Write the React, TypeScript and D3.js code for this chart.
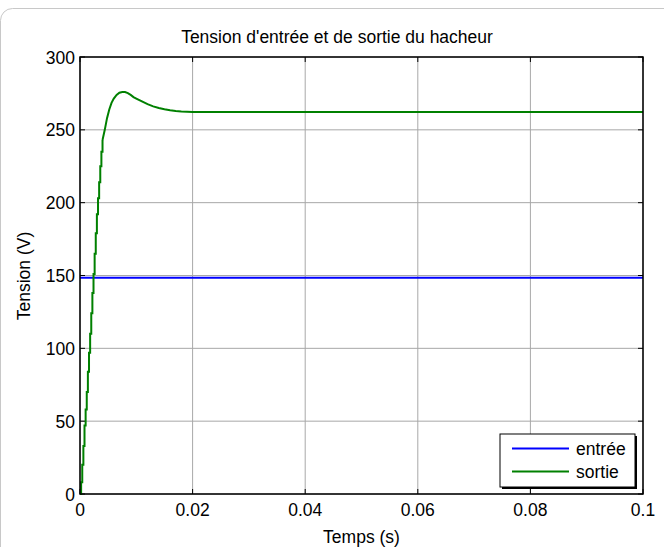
import React from "react";
import * as d3 from "d3";

const timeMs = [0, 0.2, 0.4, 0.6, 0.8, 1.0, 1.2, 1.4, 1.6, 1.8, 2.0, 2.2, 2.4, 2.6, 2.8, 3.0, 3.2, 3.4, 3.6, 3.8, 4.0, 4.4, 4.8, 5.2, 5.6, 6.0, 6.5, 7.0, 7.5, 8.0, 8.5, 9.0, 9.5, 10, 11, 12, 13, 14, 15, 16, 17, 18, 19, 20, 100];
const sortie = [0, 8, 20, 33, 47, 58, 70, 84, 97, 110, 124, 138, 151, 165, 179, 192, 203, 214, 225, 235, 243, 250, 258, 264, 268.5, 271.5, 274, 275.5, 276, 275.9, 275.2, 274, 272.5, 271.5, 269.5, 267.6, 266.1, 265, 264.1, 263.4, 262.9, 262.6, 262.4, 262.2, 262.2];
const entreeTime = [0, 100];
const entree = [148.5, 148.5];

const xTicks = [0, 0.02, 0.04, 0.06, 0.08, 0.1];
const xTickLabels = ["0", "0.02", "0.04", "0.06", "0.08", "0.1"];
const yTicks = [0, 50, 100, 150, 200, 250, 300];

const title = "Tension d'entrée et de sortie du hacheur";
const xLabel = "Temps (s)";
const yLabel = "Tension (V)";
const legendNames = ["entrée", "sortie"];
const colors = ["#0000ff", "#008000"];

export default function App() {
  const W = 664, H = 547;
  const left = 80, right = 643, top = 57, bottom = 494;
  const x = d3.scaleLinear().domain([0, 0.1]).range([left, right]);
  const y = d3.scaleLinear().domain([0, 300]).range([bottom, top]);
  const font = "'Liberation Sans', Arial, sans-serif";
  const fs = 17.5;

  const stepLine = d3.line<[number, number]>()
    .x(d => x(d[0] / 1000))
    .y(d => y(d[1]))
    .curve(d3.curveStepAfter);
  const linLine = d3.line<[number, number]>()
    .x(d => x(d[0] / 1000))
    .y(d => y(d[1]));

  const sortiePts: [number, number][] = timeMs.map((t, i) => [t, sortie[i]]);
  const entreePts: [number, number][] = entreeTime.map((t, i) => [t, entree[i]]);
  const risePts = sortiePts.filter(p => p[0] <= 4.0);
  const restPts = sortiePts.filter(p => p[0] >= 4.0);

  const lgX = 500, lgY = 434, lgW = 135, lgH = 53;

  return (
    <svg width={W} height={H} style={{ position: "absolute", left: 0, top: 0, background: "#fff" }} fontFamily={font}>
      <rect x={0.5} y={8.5} width={W + 20} height={H + 20} rx={12} fill="#fff" stroke="#c8c8c8" strokeWidth={1} />
      {xTicks.map((t, i) => (
        <line key={"gx" + i} x1={x(t)} x2={x(t)} y1={top} y2={bottom} stroke="#a8a8a8" strokeWidth={1} />
      ))}
      {yTicks.map((t, i) => (
        <line key={"gy" + i} x1={left} x2={right} y1={y(t)} y2={y(t)} stroke="#a8a8a8" strokeWidth={1} />
      ))}
      {xTicks.map((t, i) => (
        <g key={"tx" + i}>
          <line x1={x(t)} x2={x(t)} y1={bottom} y2={bottom - 5} stroke="#000" />
          <line x1={x(t)} x2={x(t)} y1={top} y2={top + 5} stroke="#000" />
          <text x={x(t)} y={515.5} fontSize={fs} textAnchor="middle" fill="#000">{xTickLabels[i]}</text>
        </g>
      ))}
      {yTicks.map((t, i) => (
        <g key={"ty" + i}>
          <line x1={left} x2={left + 5} y1={y(t)} y2={y(t)} stroke="#000" />
          <line x1={right} x2={right - 5} y1={y(t)} y2={y(t)} stroke="#000" />
          <text x={75} y={y(t) + 6.5} fontSize={fs} textAnchor="end" fill="#000">{t}</text>
        </g>
      ))}
      <path d={linLine(entreePts) || ""} fill="none" stroke={colors[0]} strokeWidth={2} />
      <path d={stepLine(risePts) || ""} fill="none" stroke={colors[1]} strokeWidth={2} />
      <path d={linLine(restPts) || ""} fill="none" stroke={colors[1]} strokeWidth={2} />
      <rect x={left} y={top} width={right - left} height={bottom - top} fill="none" stroke="#000" strokeWidth={1.5} />
      <text x={337} y={43} fontSize={fs} textAnchor="middle" fill="#000">{title}</text>
      <text x={(left + right) / 2} y={543} fontSize={fs} textAnchor="middle" fill="#000">{xLabel}</text>
      <text transform={`translate(30, ${276}) rotate(-90)`} fontSize={fs} textAnchor="middle" fill="#000">{yLabel}</text>
      <rect x={lgX + 2} y={lgY + 2} width={lgW} height={lgH} fill="#000" />
      <rect x={lgX} y={lgY} width={lgW} height={lgH} fill="#fff" stroke="#000" strokeWidth={1} />
      {legendNames.map((n, i) => (
        <g key={"lg" + i}>
          <line x1={512} x2={569} y1={448.5 + i * 23} y2={448.5 + i * 23} stroke={colors[i]} strokeWidth={2} />
          <text x={576} y={454.5 + i * 23} fontSize={fs} fill="#000">{n}</text>
        </g>
      ))}
    </svg>
  );
}
